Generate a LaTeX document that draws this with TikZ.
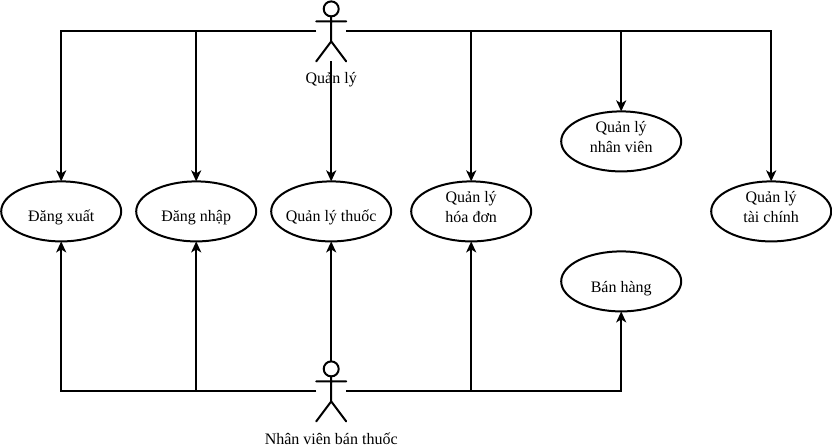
\documentclass[tikz,border=0pt]{standalone}
\usepackage{fontspec}
\setmainfont{Liberation Serif}
\usetikzlibrary{arrows.meta,shapes.geometric}
\tikzset{
  uc/.style={draw=black,line width=2pt,ellipse,minimum width=120pt,minimum height=60pt,inner sep=0pt,outer sep=0pt},
  actorbox/.style={minimum width=30pt,minimum height=60pt,inner sep=0pt,outer sep=0pt},
  lbl/.style={inner sep=0pt,align=center,font=\fontsize{16}{20}\selectfont},
  conn/.style={line width=2pt,-{Stealth[length=11pt,width=10pt,inset=3pt]}},
  stick/.style={line width=2pt,line cap=round},
}
\begin{document}
\begin{tikzpicture}[x=1pt,y=-1pt]
\useasboundingbox (0.3,-0.4) rectangle (832.3,446.6);
\node[uc] (dx) at (61.5,211) {};
\node[uc] (dn) at (196.5,211) {};
\node[uc] (qt) at (331.5,211) {};
\node[uc] (hd) at (471.5,211) {};
\node[uc] (nv) at (621.5,141) {};
\node[uc] (tc) at (771.5,211) {};
\node[uc] (bh) at (621.5,281) {};
\node[lbl] (dxt) at (61.5,216.8) {Đăng xuất};
\node[lbl] (dnt) at (196.5,216.8) {Đăng nhập};
\node[lbl] (qtt) at (331.5,216.8) {Quản lý thuốc};
\node[lbl] (hdt) at (471.5,206.8) {Quản lý\\hóa đơn};
\node[lbl] (nvt) at (621.5,136.8) {Quản lý\\nhân viên};
\node[lbl] (tct) at (771.5,206.8) {Quản lý\\tài chính};
\node[lbl] (bht) at (621.5,287.8) {Bán hàng};
\node[actorbox] (ql) at (331.5,31) {};
\node[actorbox] (ban) at (331.5,391) {};
\node[lbl] (qll) at (331.5,78.8) {Quản lý};
\node[lbl] (banl) at (331.5,438.8) {Nhân viên bán thuốc};
% stick figures
\foreach \a/\yy in {ql/1,ban/361}{
  \draw[stick] (331.5,\yy+7.5) circle (7.5pt);
  \draw[stick] (331.5,\yy+15) -- (331.5,\yy+40) (316.5,\yy+20) -- (346.5,\yy+20)
     (316.5,\yy+60) -- (331.5,\yy+40) -- (346.5,\yy+60);
}
% connectors
\draw[conn] (ql.west) -| (dx.north);
\draw[conn] (ql.west) -| (dn.north);
\draw[conn] (ql.south) -- (qt.north);
\draw[conn] (ql.east) -| (hd.north);
\draw[conn] (ql.east) -| (nv.north);
\draw[conn] (ql.east) -| (tc.north);
\draw[conn] (ban.west) -| (dx.south);
\draw[conn] (ban.west) -| (dn.south);
\draw[conn] (ban.north) -- (qt.south);
\draw[conn] (ban.east) -| (hd.south);
\draw[conn] (ban.east) -| (bh.south);
\end{tikzpicture}
\end{document}
